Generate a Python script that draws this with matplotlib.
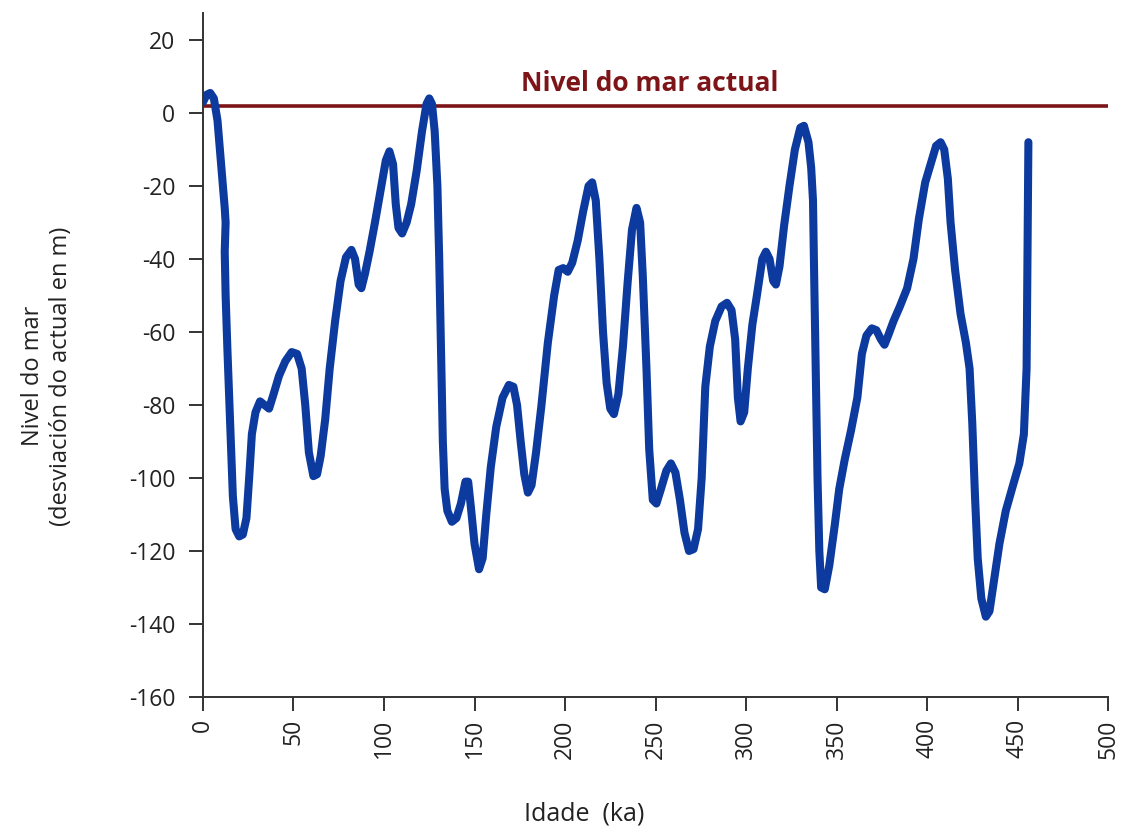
import matplotlib
matplotlib.use("Agg")
import matplotlib.pyplot as plt

plt.rcParams["font.family"] = ["Open Sans", "DejaVu Sans"]
plt.rcParams["axes.unicode_minus"] = False

# age (ka) and sea level (m relative to present)
age = [0, 2, 4, 6, 8, 10, 12, 12.5, 12, 12.5, 13.5, 15, 16.5, 18, 20, 22, 24,
       25.5, 27, 29, 31.5, 34, 36.5, 39, 42, 45.5, 49, 52, 54.5, 56.5, 58.5,
       61, 63, 65, 67.5, 70, 73, 76, 79, 82, 84, 86, 87.5, 89.5, 92, 95, 98.5,
       101, 103, 105, 106.5, 108, 110, 112.5, 115, 118, 121, 123.5, 125,
       126.5, 128, 129.5, 130.5, 131.5, 132.5, 133.5, 135, 137.5, 140, 142.5,
       145, 146.5, 148, 150, 152.5, 154.5, 156.5, 159, 162, 165.5, 169, 171.5,
       173.5, 175.5, 177.5, 179.5, 181.5, 184, 187, 190.5, 194, 196.5, 199,
       201.5, 204, 207, 210, 213, 215, 217, 219, 221, 223, 225, 227, 229.5,
       232, 234.5, 237, 239.5, 241.5, 243, 245, 246.5, 248.5, 250.5, 253, 256,
       258.5, 261, 263.5, 266, 268.5, 271, 273.5, 275.5, 277.5, 280, 283,
       286.5, 289.5, 292, 294, 295.5, 297, 299, 301, 303.5, 306, 309, 311,
       313, 315, 316.5, 318.5, 321, 324, 327, 330, 332, 334.5, 336, 337,
       337.5, 338.5, 339.5, 340.5, 341.5, 343.5, 346, 349, 351.5, 354.5, 358,
       361.5, 364, 366.5, 369.5, 372, 374.5, 376.5, 378.5, 381.5, 385, 389,
       392.5, 395.5, 399, 402, 405, 407.5, 409.5, 411.5, 413, 415.5, 418.5,
       421.5, 423.5, 425, 426.5, 428, 430, 432.5, 434.5, 437, 440, 443.5,
       447.5, 451, 453.5, 455, 455.5, 456]
level = [3, 5, 5.5, 4, -2, -14, -26, -30, -38, -50, -65, -85, -105, -114,
         -116, -115.5, -111, -100, -88, -82, -79, -80, -81, -77, -72, -68,
         -65.5, -66, -70, -80, -93, -99.5, -99, -94, -84, -70, -57, -46,
         -39.5, -37.5, -40, -47, -48, -44, -38, -30, -20, -13, -10.5, -14,
         -25, -31.5, -33, -30, -25, -16, -5, 2.5, 4, 2.5, -5, -20, -40, -65,
         -90, -103, -109, -112, -111, -107, -101, -101, -108, -118, -125,
         -122, -110, -97, -86, -78, -74.5, -75, -80, -90, -99, -104, -102,
         -93, -80, -63, -50, -43, -42.5, -43.5, -41, -35, -27, -20, -19, -24,
         -40, -60, -74, -81, -82.5, -77, -64, -47, -32, -26, -30, -45, -70,
         -92, -106, -107, -103, -98, -96, -98.5, -106, -115, -120, -119.5,
         -114, -100, -75, -64, -57, -53, -52, -54, -62, -78, -84.5, -82, -70,
         -58, -50, -40, -38, -40, -46, -47, -42, -31, -20, -10, -4, -3.5, -8,
         -15, -24, -40, -70, -100, -120, -130, -130.5, -124, -113, -103, -95,
         -87, -78, -66, -61, -59, -59.5, -62, -63.5, -61, -57, -53, -48, -40,
         -29, -19, -14, -9, -8, -10, -18, -30, -43, -55, -63, -70, -85, -105,
         -122, -133, -138, -136.5, -128, -118, -109, -102, -96, -88, -70, -40,
         -8]
present_level = 2
xticks = [0, 50, 100, 150, 200, 250, 300, 350, 400, 450, 500]
yticks = [20, 0, -20, -40, -60, -80, -100, -120, -140, -160]

fig = plt.figure(figsize=(11.24, 8.34), dpi=100)
ax = fig.add_axes([0.1806, 0.1643, 0.8052, 0.8201])

ax.axhline(present_level, color="#7d1418", lw=2.6, zorder=1)
ax.plot(age, level, color="#0c3a9e", lw=5.8, solid_joinstyle="round",
        solid_capstyle="round", zorder=2)
ax.text(247, present_level + 2.3, "Nivel do mar actual", color="#7d1418",
        fontsize=19, fontweight="bold", ha="center", va="bottom")

ax.set_xlim(0, 500)
ax.set_ylim(-160, 27.4)
ax.set_xticks(xticks)
ax.set_yticks(yticks)
ax.set_xticklabels([str(t) for t in xticks], rotation=90)

for side in ["top", "right"]:
    ax.spines[side].set_visible(False)
for side in ["left", "bottom"]:
    ax.spines[side].set_color("#333333")
    ax.spines[side].set_linewidth(1.4)
ax.tick_params(axis="y", length=10, width=1.4, color="#333333", pad=10,
               labelsize=16.5, labelcolor="#222222")
ax.tick_params(axis="x", length=10, width=1.4, color="#333333", pad=6,
               labelsize=16.5, labelcolor="#222222")

fig.text(0.042, 0.549, "Nivel do mar\n(desviación do actual en m)",
         rotation=90, ha="center", va="center", multialignment="center",
         fontsize=17, color="#222222", linespacing=1.25)
fig.text(0.52, 0.024, "Idade  (ka)", ha="center", va="center",
         fontsize=18, color="#222222")

fig.savefig("out.png", dpi=100)
